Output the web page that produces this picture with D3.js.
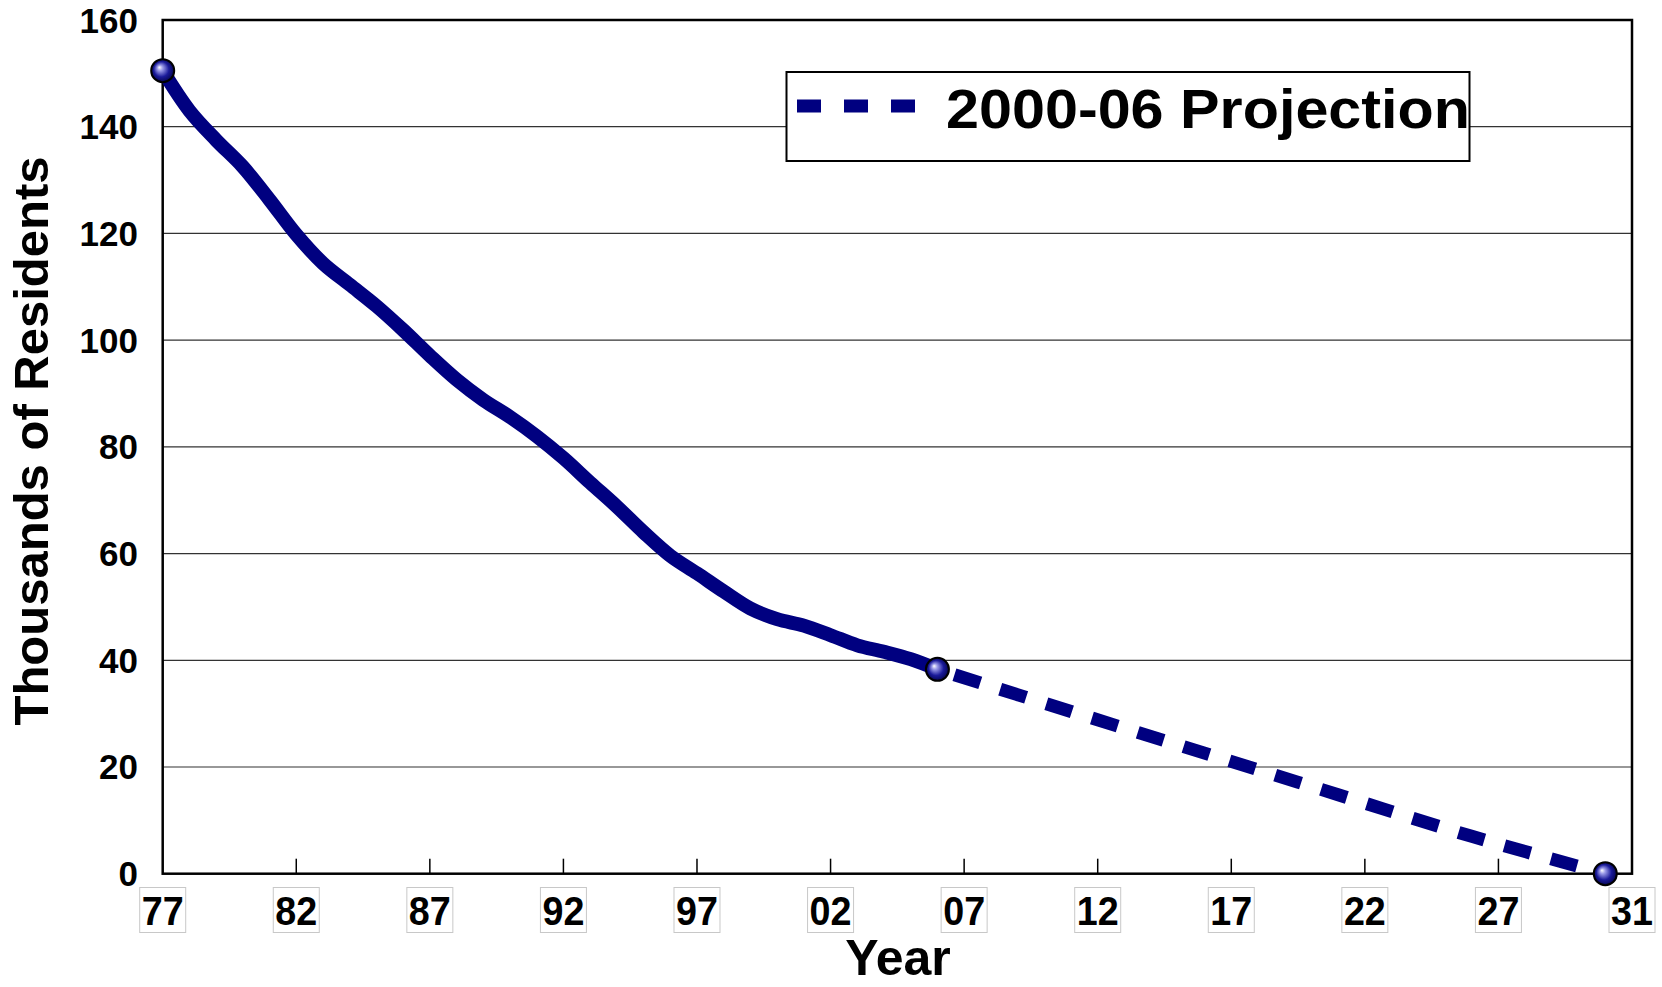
<!DOCTYPE html>
<html>
<head>
<meta charset="utf-8">
<script src="https://cdn.jsdelivr.net/npm/d3@7"></script>
<style>
  body { margin: 0; background: #fff; }
  text { font-family: "Liberation Sans", Arial, sans-serif; font-weight: bold; fill: #000; }
</style>
</head>
<body>
<svg width="1662" height="987"></svg>
<script>
// actual residents, 1977-2006
var histYears = [1977, 1978, 1979, 1980, 1981, 1982, 1983, 1984, 1985, 1986,
  1987, 1988, 1989, 1990, 1991, 1992, 1993, 1994, 1995, 1996,
  1997, 1998, 1999, 2000, 2001, 2002, 2003, 2004, 2005, 2006];
var histValues = [150.5, 143, 137.5, 132.5, 126.3, 119.8, 114.4, 110.4, 106.4, 101.9,
  97.1, 92.6, 88.8, 85.6, 82, 77.9, 73.3, 68.8, 64, 59.6,
  56.3, 52.9, 49.7, 47.7, 46.5, 44.7, 42.8, 41.6, 40.2, 38.3];

// 2000-06 trend projection
var projYears = [2006, 2011, 2016, 2021, 2026, 2031];
var projValues = [38.3, 30.4, 22.6, 14.8, 7.0, 0];

var markerYears = [1977, 2006, 2031];
var markerValues = [150.5, 38.3, 0];

var yTicks = [0, 20, 40, 60, 80, 100, 120, 140, 160];
var xTickYears = [1977, 1982, 1987, 1992, 1997, 2002, 2007, 2012, 2017, 2022, 2027, 2032];
var xTickLabels = ["77", "82", "87", "92", "97", "02", "07", "12", "17", "22", "27", "31"];

var legendLabel = "2000-06 Projection";
var navy = "#000080";

var svg = d3.select("svg");

var x = d3.scaleLinear().domain([1977, 2032]).range([162.7, 1632]);
var y = d3.scaleLinear().domain([0, 160]).range([873.7, 20]);

// gradient for the ball markers
var grad = svg.append("defs").append("radialGradient")
  .attr("id", "ball")
  .attr("cx", "50%").attr("cy", "50%").attr("r", "55%")
  .attr("fx", "35%").attr("fy", "35%");
grad.append("stop").attr("offset", "0%").attr("stop-color", "#ffffff");
grad.append("stop").attr("offset", "22%").attr("stop-color", "#9a9ae8");
grad.append("stop").attr("offset", "60%").attr("stop-color", "#1a1a9a");
grad.append("stop").attr("offset", "100%").attr("stop-color", "#000040");

// gridlines
svg.append("g")
  .selectAll("line")
  .data(yTicks.slice(1, -1))
  .enter()
  .append("line")
  .attr("x1", x.range()[0])
  .attr("x2", x.range()[1])
  .attr("y1", function (d) { return y(d); })
  .attr("y2", function (d) { return y(d); })
  .attr("stroke", "#333")
  .attr("stroke-width", 1.2);

// plot frame
svg.append("rect")
  .attr("x", x.range()[0])
  .attr("y", y.range()[1])
  .attr("width", x.range()[1] - x.range()[0])
  .attr("height", y.range()[0] - y.range()[1])
  .attr("fill", "none")
  .attr("stroke", "#000")
  .attr("stroke-width", 2.5);

// x ticks pointing up into the plot
svg.append("g")
  .selectAll("line")
  .data(xTickYears.slice(1, -1))
  .enter()
  .append("line")
  .attr("x1", function (d) { return x(d); })
  .attr("x2", function (d) { return x(d); })
  .attr("y1", y(0))
  .attr("y2", y(0) - 15)
  .attr("stroke", "#000")
  .attr("stroke-width", 1.5);

// x tick labels in little boxes
var xl = svg.append("g")
  .selectAll("g")
  .data(xTickYears)
  .enter()
  .append("g")
  .attr("transform", function (d) { return "translate(" + x(d) + ",910)"; });

xl.append("rect")
  .attr("x", -23).attr("y", -22.5)
  .attr("width", 46).attr("height", 45)
  .attr("fill", "#fff")
  .attr("stroke", "#c8c8c8")
  .attr("stroke-width", 1);

xl.append("text")
  .attr("text-anchor", "middle")
  .attr("y", 14.5)
  .attr("transform", "scale(0.92,1)")
  .style("font-size", "41px")
  .text(function (d, i) { return xTickLabels[i]; });

// y tick labels
svg.append("g")
  .selectAll("text")
  .data(yTicks)
  .enter()
  .append("text")
  .attr("x", 138)
  .attr("y", function (d) { return y(d) + 12.5; })
  .attr("text-anchor", "end")
  .style("font-size", "35px")
  .text(function (d) { return d; });

// axis titles
svg.append("text")
  .attr("transform", "translate(48,441) rotate(-90)")
  .attr("text-anchor", "middle")
  .style("font-size", "49px")
  .text("Thousands of Residents");

svg.append("text")
  .attr("x", 898)
  .attr("y", 975)
  .attr("text-anchor", "middle")
  .style("font-size", "50px")
  .text("Year");

// lines
var line = d3.line()
  .x(function (d) { return x(d[0]); })
  .y(function (d) { return y(d[1]); })
  .curve(d3.curveCatmullRom);

svg.append("path")
  .datum(d3.zip(histYears, histValues))
  .attr("d", line)
  .attr("fill", "none")
  .attr("stroke", navy)
  .attr("stroke-width", 14)
  .attr("stroke-linejoin", "round");

svg.append("path")
  .datum(d3.zip(projYears, projValues))
  .attr("d", line)
  .attr("fill", "none")
  .attr("stroke", navy)
  .attr("stroke-width", 13)
  .attr("stroke-dasharray", "27,21")
  .attr("stroke-dashoffset", -18);

// ball markers
svg.append("g")
  .selectAll("circle")
  .data(d3.zip(markerYears, markerValues))
  .enter()
  .append("circle")
  .attr("cx", function (d) { return x(d[0]); })
  .attr("cy", function (d) { return y(d[1]); })
  .attr("r", 11.5)
  .attr("fill", "url(#ball)")
  .attr("stroke", "#000")
  .attr("stroke-width", 2);

// legend
var lg = svg.append("g");
lg.append("rect")
  .attr("x", 786.5).attr("y", 72)
  .attr("width", 683).attr("height", 89)
  .attr("fill", "#fff")
  .attr("stroke", "#000")
  .attr("stroke-width", 2);
lg.append("line")
  .attr("x1", 797).attr("x2", 915)
  .attr("y1", 106).attr("y2", 106)
  .attr("stroke", navy)
  .attr("stroke-width", 13)
  .attr("stroke-dasharray", "24,23");
lg.append("text")
  .attr("x", 946)
  .attr("y", 128)
  .attr("textLength", 524)
  .attr("lengthAdjust", "spacingAndGlyphs")
  .style("font-size", "56px")
  .text(legendLabel);
</script>
</body>
</html>
